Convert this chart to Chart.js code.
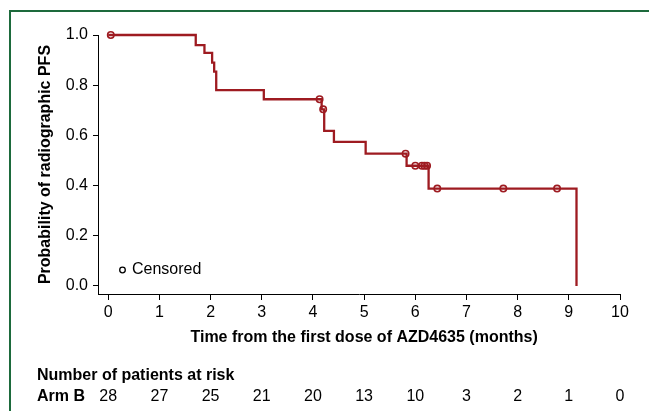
<!DOCTYPE html>
<html lang="en">
<head>
    <meta charset="UTF-8">
    <title>Radiographic PFS - Arm B</title>
    <style>
        body {
            margin: 0;
            background: #fff;
            font-family: "Liberation Sans", Arial, sans-serif;
        }
        .wrap {
            position: relative;
            width: 649px;
            height: 411px;
            overflow: hidden;
        }
        .frame {
            position: absolute;
            left: 9px;
            top: 10px;
            right: -10px;
            bottom: -10px;
            border-top: 2.5px solid #1d6a3c;
            border-left: 2.5px solid #1d6a3c;
        }
        canvas {
            position: absolute;
            left: 0;
            top: 0;
        }
    </style>
    <script src="https://cdn.jsdelivr.net/npm/chart.js"></script>
</head>
<body>
    <div class="wrap">
        <div class="frame"></div>
        <canvas id="km" width="649" height="411"></canvas>
    </div>

    <script>
        // KM step points (time in months, survival probability)
        const kmTimes = [0, 1.71, 1.88, 2.03, 2.07, 2.11, 3.04, 4.17, 4.22, 4.41, 5.03, 5.83, 6.26, 9.15];
        const kmProb  = [1.0, 0.96, 0.929, 0.89, 0.854, 0.78, 0.744, 0.704, 0.618, 0.574, 0.527, 0.479, 0.388, 0.0];

        // censored observations
        const censorTimes = [0.05, 4.13, 4.20, 5.81, 6.00, 6.13, 6.18, 6.23, 6.43, 7.72, 8.77];
        const censorProb  = [1.0, 0.744, 0.704, 0.527, 0.479, 0.479, 0.479, 0.479, 0.388, 0.388, 0.388];

        const xTicks = [0, 1, 2, 3, 4, 5, 6, 7, 8, 9, 10];
        const yTicks = [0, 0.2, 0.4, 0.6, 0.8, 1.0];
        const atRisk = [28, 27, 25, 21, 20, 13, 10, 3, 2, 1, 0];

        const red = '#9e1b21';
        const fontFamily = '"Liberation Sans", Arial, sans-serif';

        const extras = {
            id: 'extras',
            afterDraw(chart) {
                const ctx = chart.ctx;
                const xs = chart.scales.x;
                ctx.save();
                ctx.fillStyle = '#000';
                ctx.textBaseline = 'middle';

                // x axis title
                ctx.font = 'bold 16px ' + fontFamily;
                ctx.textAlign = 'center';
                ctx.fillText('Time from the first dose of AZD4635 (months)', xs.getPixelForValue(5), 338);

                // risk table
                ctx.textAlign = 'left';
                ctx.fillText('Number of patients at risk', 37, 376);
                ctx.fillText('Arm B', 37, 397);
                ctx.font = '16px ' + fontFamily;
                ctx.textAlign = 'center';
                atRisk.forEach((n, i) => {
                    ctx.fillText(String(n), xs.getPixelForValue(xTicks[i]), 397);
                });

                // legend
                ctx.beginPath();
                ctx.arc(122.5, 270, 2.8, 0, Math.PI * 2);
                ctx.strokeStyle = '#000';
                ctx.lineWidth = 1.3;
                ctx.stroke();
                ctx.textAlign = 'left';
                ctx.fillText('Censored', 132, 270);
                ctx.restore();
            }
        };

        new Chart(document.getElementById('km'), {
            type: 'line',
            data: {
                datasets: [{
                    label: 'Arm B',
                    data: kmTimes.map((t, i) => ({ x: t, y: kmProb[i] })),
                    borderColor: red,
                    borderWidth: 2.3,
                    stepped: true,
                    pointRadius: 0,
                    fill: false,
                    clip: false
                }, {
                    label: 'Censored',
                    type: 'scatter',
                    data: censorTimes.map((t, i) => ({ x: t, y: censorProb[i] })),
                    borderColor: red,
                    backgroundColor: 'rgba(0,0,0,0)',
                    borderWidth: 1.6,
                    pointRadius: 3.2,
                    pointStyle: 'circle',
                    showLine: false,
                    clip: false
                }]
            },
            options: {
                responsive: false,
                animation: false,
                devicePixelRatio: 1,
                layout: {
                    padding: { left: 0, right: 29, top: 35, bottom: 0 }
                },
                plugins: {
                    legend: { display: false },
                    tooltip: { enabled: false }
                },
                scales: {
                    x: {
                        type: 'linear',
                        min: -0.2,
                        max: 10,
                        afterBuildTicks: s => { s.ticks = xTicks.map(v => ({ value: v })); },
                        afterFit: s => { s.height = 117; },
                        grid: {
                            drawOnChartArea: false,
                            drawTicks: true,
                            tickLength: 6,
                            tickColor: '#000'
                        },
                        border: { color: '#000', width: 1 },
                        ticks: {
                            color: '#000',
                            padding: 3,
                            maxRotation: 0,
                            font: { family: fontFamily, size: 16 },
                            callback: v => String(v)
                        }
                    },
                    y: {
                        type: 'linear',
                        min: -0.032,
                        max: 1.0,
                        afterBuildTicks: s => { s.ticks = yTicks.map(v => ({ value: v })); },
                        afterFit: s => { s.width = 98; },
                        grid: {
                            drawOnChartArea: false,
                            drawTicks: true,
                            tickLength: 5,
                            tickColor: '#000'
                        },
                        border: { color: '#000', width: 1 },
                        ticks: {
                            color: '#000',
                            padding: 5,
                            font: { family: fontFamily, size: 16 },
                            callback: v => v.toFixed(1)
                        },
                        title: {
                            display: true,
                            text: 'Probability of radiographic PFS',
                            color: '#000',
                            font: { family: fontFamily, size: 16, weight: 'bold' },
                            padding: { top: 36, bottom: 0 }
                        }
                    }
                }
            },
            plugins: [extras]
        });
    </script>
</body>
</html>
